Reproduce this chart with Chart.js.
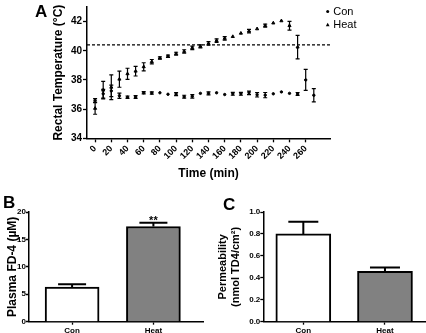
<!DOCTYPE html>
<html lang="en">
<head>
<meta charset="UTF-8">
<title>Rectal temperature, plasma FD-4 and permeability</title>
<script src="https://cdn.jsdelivr.net/npm/chart.js"></script>
<style>
  body { margin: 0; background: #fff; }
  #wrap { position: relative; width: 426px; height: 333px; overflow: hidden; font-family: "Liberation Sans", Arial, sans-serif; }
  canvas { position: absolute; }
  #chartA { left: 0; top: 0; }
  #chartB { left: 0; top: 185px; }
  #chartC { left: 215px; top: 185px; }
  .panel { position: absolute; font-weight: bold; font-size: 17px; line-height: 17px; color: #000; }
</style>
</head>
<body>
<div id="wrap">
  <canvas id="chartA" width="426" height="185"></canvas>
  <canvas id="chartB" width="215" height="148"></canvas>
  <canvas id="chartC" width="211" height="148"></canvas>
  <div class="panel" style="left:35px;top:3px">A</div>
  <div class="panel" style="left:3px;top:194px">B</div>
  <div class="panel" style="left:223px;top:196px">C</div>
</div>

<script>
// panel A: rectal temperature over time
const timeMin = [0, 10, 20, 30, 40, 50, 60, 70, 80, 90, 100, 110, 120, 130, 140, 150, 160, 170, 180, 190, 200, 210, 220, 230, 240, 250, 260, 270];
const conTemp = [36.6, 37.05, 37.25, 36.92, 36.82, 36.83, 37.12, 37.1, 37.12, 37.02, 37.03, 36.85, 36.88, 37.08, 37.08, 37.12, 37.0, 37.05, 37.05, 37.12, 36.98, 36.96, 37.05, 37.18, 37.08, 37.04, 38.0, 36.95];
const conSem  = [0.12, 0.3, 0.4, 0.18, 0.08, 0.1, 0.08, 0.08, 0, 0, 0.1, 0.1, 0.12, 0, 0.1, 0, 0, 0.1, 0.1, 0.12, 0.15, 0.18, 0, 0, 0, 0.1, 0.72, 0.45];
const heatTemp = [36.05, 37.3, 37.5, 38.05, 38.42, 38.6, 38.9, 39.25, 39.5, 39.62, 39.8, 39.95, 40.2, 40.3, 40.5, 40.7, 40.85, 40.97, 41.2, 41.35, 41.5, 41.72, 41.9, 42.05, 41.72, 40.25];
const heatSem  = [0.4, 0.6, 0.85, 0.55, 0.38, 0.33, 0.28, 0.15, 0.08, 0.08, 0.1, 0.12, 0.12, 0.1, 0.12, 0.12, 0.12, 0, 0, 0.12, 0, 0.1, 0, 0, 0.3, 0.8];
const timeTicks = [0, 20, 40, 60, 80, 100, 120, 140, 160, 180, 200, 220, 240, 260];
const tempTicks = [34, 36, 38, 40, 42];
const cutoffTemp = 40.4;

// panels B and C
const groups = ['Con', 'Heat'];
const fd4Mean = [6.3, 17.35];
const fd4Sem = [0.55, 0.7];
const fd4Sig = ['', '**'];
const fd4Ticks = [0, 5, 10, 15, 20];
const permMean = [0.80, 0.46];
const permSem = [0.11, 0.035];
const permTicks = [0, 0.1, 0.2, 0.3, 0.4, 0.5, 0.6, 0.7, 0.8, 0.9, 1.0];

const FONT = '"Liberation Sans", Arial, sans-serif';
Chart.defaults.font.family = FONT;
Chart.defaults.color = '#000';

// error bars from dataset.sem (upOnly for bars)
const errorBars = {
  id: 'errorBars',
  afterDatasetsDraw(chart) {
    const ctx = chart.ctx;
    chart.data.datasets.forEach((ds, i) => {
      if (!ds.sem) return;
      const meta = chart.getDatasetMeta(i);
      const yScale = chart.scales[meta.yAxisID];
      ctx.save();
      ctx.strokeStyle = '#000';
      ctx.lineWidth = ds.errWidth;
      meta.data.forEach((el, j) => {
        const e = ds.sem[j];
        const v = ds.data[j].y;
        const x = el.x;
        if (e) {
          const top = yScale.getPixelForValue(v + e);
          const bot = yScale.getPixelForValue(ds.upOnly ? v : v - e);
          ctx.beginPath();
          ctx.moveTo(x, top); ctx.lineTo(x, bot);
          ctx.moveTo(x - ds.capHalf, top); ctx.lineTo(x + ds.capHalf, top);
          if (!ds.upOnly) { ctx.moveTo(x - ds.capHalf, bot); ctx.lineTo(x + ds.capHalf, bot); }
          ctx.stroke();
        }
        if (ds.sig && ds.sig[j]) {
          ctx.fillStyle = '#000';
          ctx.font = 'bold 11px ' + FONT;
          ctx.textAlign = 'center';
          ctx.textBaseline = 'alphabetic';
          ctx.fillText(ds.sig[j], x, yScale.getPixelForValue(v + e) + 1);
        }
      });
      ctx.restore();
    });
  }
};

// small legend at the top right of panel A
const sideLegend = {
  id: 'sideLegend',
  afterDraw(chart) {
    const ctx = chart.ctx;
    const items = chart.data.datasets.filter(d => d.inLegend);
    ctx.save();
    ctx.font = '11px ' + FONT;
    ctx.textBaseline = 'middle';
    ctx.fillStyle = '#000';
    items.forEach((d, i) => {
      const x = 327.7, y = 11.5 + i * 13.5;
      ctx.beginPath();
      if (d.pointStyle === 'triangle') {
        ctx.moveTo(x, y - 2.2); ctx.lineTo(x - 1.9, y + 1.2); ctx.lineTo(x + 1.9, y + 1.2); ctx.closePath();
      } else {
        ctx.arc(x, y, 1.5, 0, Math.PI * 2);
      }
      ctx.fill();
      ctx.fillText(d.label, x + 5.6, y);
    });
    ctx.restore();
  }
};

function axis(tickLen) {
  return {
    offset: false,
    grid: { display: true, offset: false, drawOnChartArea: false, drawTicks: true, tickLength: tickLen, tickColor: '#000', tickWidth: 1.3 },
    border: { display: true, color: '#000', width: 1.5 }
  };
}

// ---- A ----
new Chart(document.getElementById('chartA'), {
  type: 'scatter',
  data: {
    datasets: [
      {
        label: 'Con', inLegend: true,
        data: conTemp.map((y, i) => ({ x: timeMin[i], y })),
        sem: conSem, errWidth: 1.2, capHalf: 2,
        pointStyle: 'circle', pointRadius: 1.2, pointBorderWidth: 1,
        backgroundColor: '#000', borderColor: '#000', showLine: false
      },
      {
        label: 'Heat', inLegend: true,
        data: heatTemp.map((y, i) => ({ x: timeMin[i], y })),
        sem: heatSem, errWidth: 1.2, capHalf: 2,
        pointStyle: 'triangle', pointRadius: 1.8, pointBorderWidth: 1,
        backgroundColor: '#000', borderColor: '#000', showLine: false
      },
      {
        label: 'cutoff',
        data: [{ x: -10, y: cutoffTemp }, { x: 290, y: cutoffTemp }],
        showLine: true, borderColor: '#000', borderWidth: 1.2, borderDash: [3, 2],
        pointRadius: 0
      }
    ]
  },
  options: {
    responsive: false,
    animation: false,
    layout: { padding: { left: 50, right: 96, top: 1, bottom: 2 } },
    plugins: { legend: { display: false }, tooltip: { enabled: false } },
    scales: {
      x: {
        type: 'linear', min: -10, max: 290,
        ...axis(4),
        afterBuildTicks: s => { s.ticks = timeTicks.map(v => ({ value: v })); },
        afterFit: s => { s.height = 44.7; },
        ticks: { autoSkip: false, minRotation: 45, maxRotation: 45, padding: 1, font: { size: 9, weight: 'bold' } },
        title: { display: true, text: 'Time (min)', font: { size: 12, weight: 'bold' }, padding: { top: 0, bottom: 2 } }
      },
      y: {
        min: 34, max: 43,
        ...axis(4),
        afterBuildTicks: s => { s.ticks = tempTicks.map(v => ({ value: v })); },
        afterFit: s => { s.width = 37; },
        ticks: { padding: 1, font: { size: 10, weight: 'bold' } },
        title: { display: true, text: 'Rectal Temperature (°C)', font: { size: 12, weight: 'bold' }, padding: { top: 1, bottom: 0 } }
      }
    }
  },
  plugins: [errorBars, sideLegend]
});

// ---- B ----
new Chart(document.getElementById('chartB'), {
  type: 'bar',
  data: {
    datasets: [{
      label: 'Plasma FD-4',
      data: groups.map((g, i) => ({ x: i, y: fd4Mean[i] })),
      sem: fd4Sem, sig: fd4Sig, upOnly: true, errWidth: 2, capHalf: 14,
      backgroundColor: ['#ffffff', '#818181'], borderColor: '#000', borderWidth: 2,
      barThickness: 54
    }]
  },
  options: {
    responsive: false,
    animation: false,
    layout: { padding: { left: 0, right: 12, top: 27, bottom: 0 } },
    plugins: { legend: { display: false }, tooltip: { enabled: false } },
    scales: {
      x: {
        type: 'linear', min: -0.53, max: 1.61,
        ...axis(3),
        afterBuildTicks: s => { s.ticks = groups.map((g, i) => ({ value: i })); },
        afterFit: s => { s.height = 11.3; },
        ticks: { autoSkip: false, maxRotation: 0, padding: 1, font: { size: 8, weight: 'bold' }, callback: v => groups[v] },
      },
      y: {
        min: 0, max: 20,
        ...axis(3),
        afterBuildTicks: s => { s.ticks = fd4Ticks.map(v => ({ value: v })); },
        afterFit: s => { s.width = 29; },
        ticks: { padding: 0, font: { size: 8, weight: 'bold' } },
        title: { display: true, text: 'Plasma FD-4 (µM)', font: { size: 12, weight: 'bold' }, padding: { top: 5, bottom: 0 } }
      }
    }
  },
  plugins: [errorBars]
});

// ---- C ----
new Chart(document.getElementById('chartC'), {
  type: 'bar',
  data: {
    datasets: [{
      label: 'Permeability',
      data: groups.map((g, i) => ({ x: i, y: permMean[i] })),
      sem: permSem, upOnly: true, errWidth: 2, capHalf: 15,
      backgroundColor: ['#ffffff', '#818181'], borderColor: '#000', borderWidth: 2,
      barThickness: 55
    }]
  },
  options: {
    responsive: false,
    animation: false,
    layout: { padding: { left: 0, right: 1, top: 27, bottom: 0 } },
    plugins: { legend: { display: false }, tooltip: { enabled: false } },
    scales: {
      x: {
        type: 'linear', min: -0.49, max: 1.49,
        ...axis(3),
        afterBuildTicks: s => { s.ticks = groups.map((g, i) => ({ value: i })); },
        afterFit: s => { s.height = 11.3; },
        ticks: { autoSkip: false, maxRotation: 0, padding: 1, font: { size: 8, weight: 'bold' }, callback: v => groups[v] },
      },
      y: {
        min: 0, max: 1,
        ...axis(3),
        afterBuildTicks: s => { s.ticks = permTicks.map(v => ({ value: v })); },
        afterFit: s => { s.width = 48.3; },
        ticks: { padding: 0, font: { size: 8, weight: 'bold' },
                 callback: v => (Math.round(v * 10) % 2 === 0 ? v.toFixed(1) : '') },
        title: { display: true, text: ['Permeability', '(nmol TD4/cm²)'], font: { size: 11, weight: 'bold', lineHeight: 1.15 }, padding: { top: 2, bottom: 0 } }
      }
    }
  },
  plugins: [errorBars]
});
</script>
</body>
</html>
